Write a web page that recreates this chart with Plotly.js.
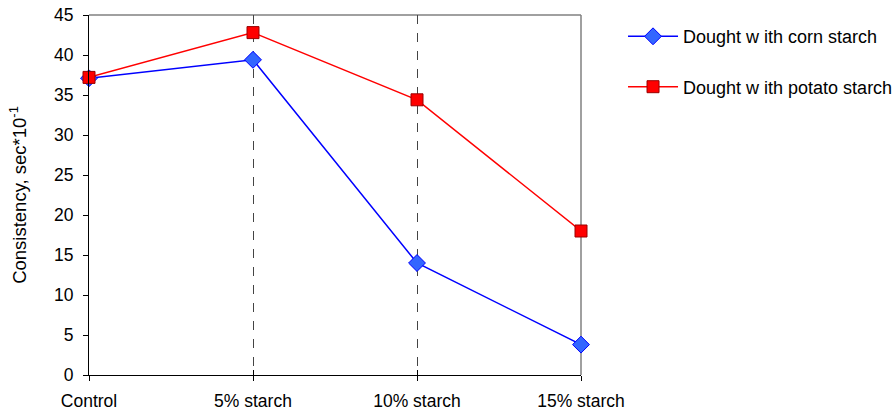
<!DOCTYPE html>
<html>
<head>
<meta charset="utf-8">
<script src="https://cdn.plot.ly/plotly-3.0.1.min.js"></script>
<style>
  html, body { margin: 0; padding: 0; background: #fff; }
  #chart { width: 893px; height: 414px; }
</style>
</head>
<body>
<div id="chart"></div>
<script>
// Dough consistency by starch content
const categories = ["Control", "5% starch", "10% starch", "15% starch"];
const cornStarch = [37.1, 39.4, 14.0, 3.8];
const potatoStarch = [37.2, 42.8, 34.4, 18.0];
const yTicks = [0, 5, 10, 15, 20, 25, 30, 35, 40, 45];
const seriesNames = ["Dought w ith corn starch", "Dought w ith potato starch"];

const FONT = "Liberation Sans, Arial, sans-serif";

const traces = [
  {
    x: categories, y: cornStarch, name: seriesNames[0], type: "scatter", mode: "lines+markers",
    line: { color: "#0000ff", width: 1.5 },
    marker: { symbol: "diamond", size: 13, color: "#3366ff", line: { color: "#0000ff", width: 1 } },
    legend: "legend", cliponaxis: false
  },
  {
    x: categories, y: potatoStarch, name: seriesNames[1], type: "scatter", mode: "lines+markers",
    line: { color: "#ff0000", width: 1.5 },
    marker: { symbol: "square", size: 12, color: "#ff0000", line: { color: "#990000", width: 1 } },
    legend: "legend2", cliponaxis: false
  }
];

const legendCommon = {
  font: { family: FONT, size: 18, color: "#000" },
  bgcolor: "rgba(0,0,0,0)", xanchor: "left", yanchor: "middle", itemwidth: 50
};

const layout = {
  width: 893, height: 414,
  margin: { l: 89, r: 312, t: 15, b: 39, autoexpand: false },
  paper_bgcolor: "#fff", plot_bgcolor: "#fff",
  font: { family: FONT, size: 17.5, color: "#000" },
  xaxis: {
    type: "category", range: [0, 3],
    showline: true, linecolor: "#000", linewidth: 1,
    ticks: "outside", ticklen: 5, tickcolor: "#000", ticklabelstandoff: 5,
    showgrid: true, gridcolor: "#444", griddash: "dash", gridwidth: 1,
    zeroline: false, tickfont: { size: 17.5 }
  },
  xaxis2: {
    type: "category", overlaying: "x", matches: "x", range: [0, 3],
    ticks: "inside", ticklen: 5, tickcolor: "#000",
    showticklabels: false, showgrid: false, showline: false, zeroline: false
  },
  yaxis: {
    range: [0, 45], tickvals: yTicks,
    showline: true, linecolor: "#000", linewidth: 1,
    ticks: "outside", ticklen: 5, tickcolor: "#000", ticklabelstandoff: 6,
    showgrid: false, zeroline: false, tickfont: { size: 17.5 },
    title: { text: "Consistency, sec*10<sup>-1</sup>", font: { size: 18.5 }, standoff: 22 }
  },
  shapes: [
    { type: "line", xref: "paper", yref: "paper", x0: 0, x1: 1, y0: 1, y1: 1,
      line: { color: "#808080", width: 1.5 }, layer: "between" },
    { type: "line", xref: "paper", yref: "paper", x0: 1, x1: 1, y0: 0, y1: 1,
      line: { color: "#808080", width: 1.5 }, layer: "between" }
  ],
  legend: Object.assign({ x: 1.0854, y: 0.94 }, legendCommon),
  legend2: Object.assign({ x: 1.0854, y: 0.80 }, legendCommon),
  showlegend: true
};

// Invisible trace that keeps the overlay axis (inner tick marks) drawn
traces.push({ x: categories, y: cornStarch, xaxis: "x2", type: "scatter", mode: "none",
  showlegend: false, hoverinfo: "skip" });

Plotly.newPlot("chart", traces, layout, { displayModeBar: false, staticPlot: true });
</script>
</body>
</html>
